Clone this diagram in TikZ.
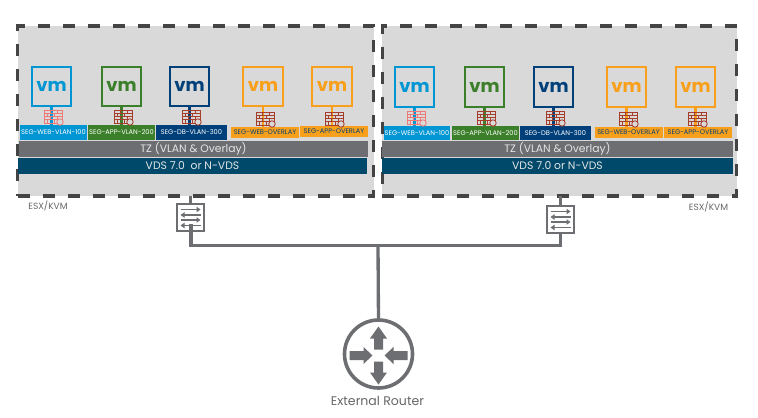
\documentclass[tikz,border=0pt]{standalone}
\usepackage{fontspec}
\setmainfont{Poppins}
\usetikzlibrary{arrows.meta}
\definecolor{vmblue}{HTML}{0095D3}
\definecolor{vmgreen}{HTML}{3C7F2A}
\definecolor{vmnavy}{HTML}{00407A}
\definecolor{vmorange}{HTML}{F8A01C}
\definecolor{bargrey}{HTML}{6D6E71}
\definecolor{vdsblue}{HTML}{00496B}
\definecolor{hostgrey}{HTML}{D9D9D9}
\definecolor{dashgrey}{HTML}{444444}
\definecolor{wallred}{HTML}{A63C2A}
\definecolor{wallpale}{HTML}{EE7A78}
\tikzset{
	hostbox/.style={draw=dashgrey,fill=hostgrey,line width=2.3pt,dash pattern=on 9pt off 9.75pt,inner sep=0,outer sep=0},
	vmbox/.style={draw=#1,fill=hostgrey,text=#1,line width=1.6pt,minimum size=29.5pt,inner sep=0,outer sep=0,font=\bfseries\fontsize{13.5}{14}\selectfont},
	seglabel/.style={fill=#1,text=white,minimum height=11pt,minimum width=50pt,inner sep=0,outer sep=0,font=\fontsize{5}{6}\selectfont},
	overlaylabel/.style={fill=vmorange,text=vmnavy,minimum height=8.5pt,minimum width=51pt,inner sep=0,outer sep=0,font=\fontsize{5}{6}\selectfont},
	barnode/.style={fill=#1,text=white!90!black,minimum width=262pt,minimum height=12pt,inner sep=0,outer sep=0,font=\fontsize{8.1}{9}\selectfont},
	stem/.style={draw=#1,line width=2pt},
	hostname/.style={text=black!60,font=\fontsize{6.8}{8}\selectfont},
	switchbox/.style={draw=bargrey,fill=white,line width=1.1pt,minimum size=20pt,inner sep=0,outer sep=0},
	uplink/.style={draw=bargrey,line width=2.5pt},
	routerbox/.style={circle,draw=bargrey,fill=white,line width=2.7pt,minimum size=51pt,inner sep=0,outer sep=0},
}
\newcommand{\firewall}[3]{
	\begin{scope}[shift={(#1,#2)},draw=#3,line width=.65pt]
		\draw (0,0) rectangle (18,13);
		\draw (0,3.2) -- (18,3.2) (0,6.5) -- (18,6.5) (0,9.8) -- (18,9.8);
		\draw (6,0) -- (6,3.2) (13,0) -- (13,3.2) (3,3.2) -- (3,6.5) (10,3.2) -- (10,6.5) (6,6.5) -- (6,9.8) (13,6.5) -- (13,9.8) (3,9.8) -- (3,13) (10,9.8) -- (10,13);
		\draw[fill=hostgrey] (16,12) circle (2.4pt);
	\end{scope}
}
\newcommand{\switcharrows}[2]{
	\begin{scope}[shift={(#1,#2)},draw=bargrey,line width=1.1pt,-{Triangle[length=3pt,width=4pt]}]
		\draw (-10,-8) -- (10,-8);
		\draw (10,-2.5) -- (-10,-2.5);
		\draw (-10,2.5) -- (10,2.5);
		\draw (10,8) -- (-10,8);
	\end{scope}
}
\begin{document}
\begin{tikzpicture}[x=.75pt,y=-.75pt]
	\useasboundingbox (0,0) rectangle (758,418);
	% left host
	\node[hostbox,minimum width=267pt,minimum height=127.5pt] (hostA) at (195.5,111) {};
	\node[vmbox=vmblue] (vmA1) at (51.5,86.5) {vm};
	\node[vmbox=vmgreen] (vmA2) at (121.5,86.5) {vm};
	\node[vmbox=vmnavy] (vmA3) at (189.5,86.5) {vm};
	\node[vmbox=vmorange] (vmA4) at (263,86.5) {vm};
	\node[vmbox=vmorange] (vmA5) at (332,86.5) {vm};
	\node[seglabel=vmblue] (segA1) at (53.5,132.5) {SEG-WEB-VLAN-100};
	\node[seglabel=vmgreen] (segA2) at (121.5,132.5) {SEG-APP-VLAN-200};
	\node[seglabel=vmnavy,minimum width=53pt] (segA3) at (191.5,132.5) {SEG-DB-VLAN-300};
	\node[overlaylabel] (segA4) at (265,132.5) {SEG-WEB-OVERLAY};
	\node[overlaylabel] (segA5) at (334,131.5) {SEG-APP-OVERLAY};
	\draw[stem=vmblue] (vmA1) -- (vmA1 |- segA1.north);
	\draw[stem=vmgreen] (vmA2) -- (vmA2 |- segA2.north);
	\draw[stem=vmnavy] (vmA3) -- (vmA3 |- segA3.north);
	\draw[stem=vmorange] (vmA4) -- (vmA4 |- segA4.north);
	\draw[stem=vmorange] (vmA5) -- (vmA5 |- segA5.north);
	\firewall{44}{110}{wallpale}
	\firewall{114}{110}{wallred}
	\firewall{182}{110}{wallred}
	\firewall{256}{112}{wallred}
	\firewall{325}{112}{wallred}
	\node[barnode=bargrey] (tzA) at (193.5,149) {TZ (VLAN \& Overlay)};
	\node[barnode=vdsblue] (vdsA) at (192.5,165.5) {VDS 7.0\ \ or N-VDS};
	\node[hostname] (esxA) at (48,206) {ESX/KVM};
	% right host
	\node[hostbox,minimum width=266pt,minimum height=127.5pt] (hostB) at (559.5,111) {};
	\node[vmbox=vmblue] (vmB1) at (414.5,87) {vm};
	\node[vmbox=vmgreen] (vmB2) at (484.5,87) {vm};
	\node[vmbox=vmnavy] (vmB3) at (553.5,87) {vm};
	\node[vmbox=vmorange] (vmB4) at (626.5,87) {vm};
	\node[vmbox=vmorange] (vmB5) at (695.5,87) {vm};
	\node[seglabel=vmblue] (segB1) at (417,133) {SEG-WEB-VLAN-100};
	\node[seglabel=vmgreen] (segB2) at (485.5,133) {SEG-APP-VLAN-200};
	\node[seglabel=vmnavy,minimum width=53pt] (segB3) at (555.5,133) {SEG-DB-VLAN-300};
	\node[overlaylabel] (segB4) at (628.5,132.5) {SEG-WEB-OVERLAY};
	\node[overlaylabel] (segB5) at (698,132.5) {SEG-APP-OVERLAY};
	\draw[stem=vmblue] (vmB1) -- (vmB1 |- segB1.north);
	\draw[stem=vmgreen] (vmB2) -- (vmB2 |- segB2.north);
	\draw[stem=vmnavy] (vmB3) -- (vmB3 |- segB3.north);
	\draw[stem=vmorange] (vmB4) -- (vmB4 |- segB4.north);
	\draw[stem=vmorange] (vmB5) -- (vmB5 |- segB5.north);
	\firewall{407}{111}{wallpale}
	\firewall{477}{111}{wallred}
	\firewall{546}{111}{wallred}
	\firewall{619}{112}{wallred}
	\firewall{688}{112}{wallred}
	\node[barnode=bargrey,minimum width=263pt] (tzB) at (557.5,149) {TZ (VLAN \& Overlay)};
	\node[barnode=vdsblue,minimum width=263pt] (vdsB) at (557.5,166) {VDS 7.0 or N-VDS};
	\node[hostname] (esxB) at (708.5,207) {ESX/KVM};
	% switches and uplinks
	\node[switchbox] (swA) at (190.5,217.5) {};
	\node[switchbox] (swB) at (560.5,219.5) {};
	\coordinate (bus) at (378,245.5);
	\coordinate (swAtail) at (191,224);
	\switcharrows{190.5}{217.5}
	\switcharrows{560.5}{219.5}
	\node[routerbox] (router) at (378.5,354) {};
	\draw[uplink] (swA |- hostA.south) -- (swA.north);
	\draw[uplink] (swB |- hostB.south) -- (swB.north);
	\draw[uplink] (swAtail) |- (bus) -| (swB.south);
	\draw[uplink] (bus) -- (router.north);
	\foreach \ang in {0,180}
		\fill[bargrey,shift={(378.5,355.5)},rotate=\ang] (-4.5,-6) -- (4.5,-6) -- (4.5,-17) -- (8.5,-17) -- (0,-29) -- (-8.5,-17) -- (-4.5,-17) -- cycle;
	\foreach \ang in {90,270}
		\fill[bargrey,shift={(378.5,355.5)},rotate=\ang] (-4.5,-29) -- (4.5,-29) -- (4.5,-15) -- (8.5,-15) -- (0,-6) -- (-8.5,-15) -- (-4.5,-15) -- cycle;
	\node[text=black!60,font=\fontsize{9.4}{10}\selectfont] (routername) at (377.5,401) {External Router};
\end{tikzpicture}
\end{document}
